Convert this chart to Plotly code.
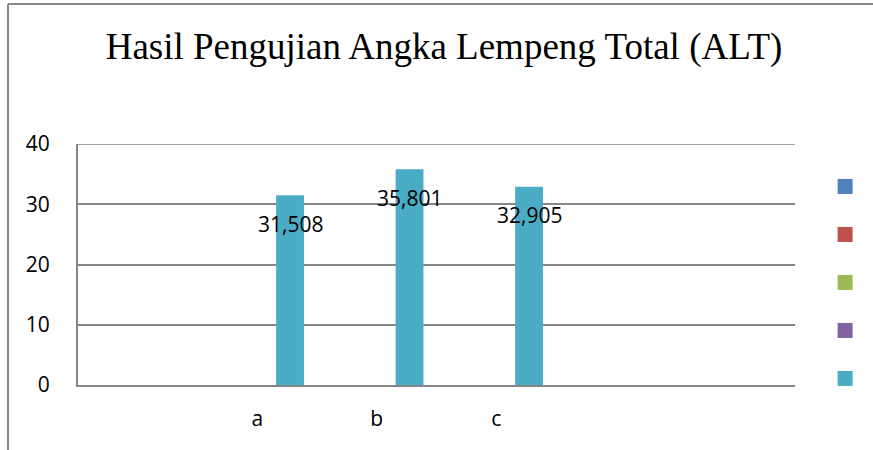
import plotly.graph_objects as go

# ---- data ----
categories = ["", "a", "b", "c", "", ""]
series_names = ["Series1", "Series2", "Series3", "Series4", "Series5"]
series_colors = ["#4F81BD", "#C0504D", "#9BBB59", "#8064A2", "#4BACC6"]
bar_categories = ["a", "b", "c"]
values_alt = [31.508, 35.801, 32.905]
y_ticks = [0, 10, 20, 30, 40]

positions = list(range(len(categories)))
bar_pos = [categories.index(c) for c in bar_categories]

fig = go.Figure()
# legend entries (the chart's legend shows colour swatches only, no text)
for nm, col in zip(series_names, series_colors):
    fig.add_trace(go.Scatter(x=[None], y=[None], mode="markers", name=" ",
                             legendgroup=nm, hoverinfo="skip",
                             marker=dict(symbol="square", size=15, color=col,
                                         line=dict(width=0))))
# the only series with values
fig.add_trace(go.Bar(x=bar_pos, y=values_alt, name=series_names[4],
                     marker_color=series_colors[4], width=0.233, offset=0.158,
                     legendgroup=series_names[4], showlegend=False,
                     marker_line_width=0))

annotations = []
for p, v in zip(bar_pos, values_alt):
    annotations.append(dict(
        x=p + 0.158 + 0.233 / 2, y=v, xref="x", yref="y",
        text=f"{v:.3f}".replace(".", ","), showarrow=False,
        yanchor="middle", yshift=-28.5,
        font=dict(family="Open Sans, Liberation Sans", size=21, color="#000000")))

title_text = "Hasil Pengujian Angka Lempeng Total (ALT)"

fig.update_layout(
    width=873, height=450,
    margin=dict(l=78, r=78, t=144, b=65, autoexpand=False),
    paper_bgcolor="white", plot_bgcolor="white",
    showlegend=True,
    legend=dict(x=1.042, xanchor="left", y=0.884, yanchor="top",
                font=dict(size=12), tracegroupgap=29,
                traceorder="grouped", bgcolor="rgba(0,0,0,0)"),
    title=dict(text=title_text, x=(444 - 78) / 717, xanchor="center",
               xref="paper", y=1 - 46 / 450, yanchor="middle", yref="container",
               font=dict(family="Liberation Serif, Times New Roman", size=37,
                         color="#000000")),
    xaxis=dict(range=[-0.5, len(categories) - 0.5], tickvals=positions,
               ticktext=categories, showgrid=False, zeroline=False,
               showline=True, linecolor="#868686", linewidth=2,
               ticks="", ticklabelstandoff=14,
               tickfont=dict(family="Open Sans, Liberation Sans", size=21,
                             color="#000000")),
    yaxis=dict(range=[0, 40], tickvals=y_ticks, showgrid=True,
               gridcolor="#868686", gridwidth=1.5, zeroline=False,
               showline=True, linecolor="#868686", linewidth=2,
               ticks="", ticklabelstandoff=22,
               tickfont=dict(family="Open Sans, Liberation Sans", size=21,
                             color="#000000")),
    annotations=annotations,
    shapes=[
        dict(type="line", xref="paper", yref="paper",
             x0=(8 - 78) / 717, x1=(874 - 78) / 717,
             y0=(385 - 4) / 241, y1=(385 - 4) / 241,
             line=dict(color="#888888", width=2)),
        dict(type="line", xref="paper", yref="paper",
             x0=(8 - 78) / 717, x1=(8 - 78) / 717,
             y0=(385 - 4) / 241, y1=(385 - 452) / 241,
             line=dict(color="#888888", width=2)),
        dict(type="line", xref="paper", yref="y",
             x0=0, x1=1, y0=40, y1=40,
             line=dict(color="#868686", width=1.5)),
    ],
)

# the page's default 8px body margin would shift the whole figure
fig.write_html("out.html", config={"displayModeBar": False},
               post_script="document.body.style.margin='0';")
